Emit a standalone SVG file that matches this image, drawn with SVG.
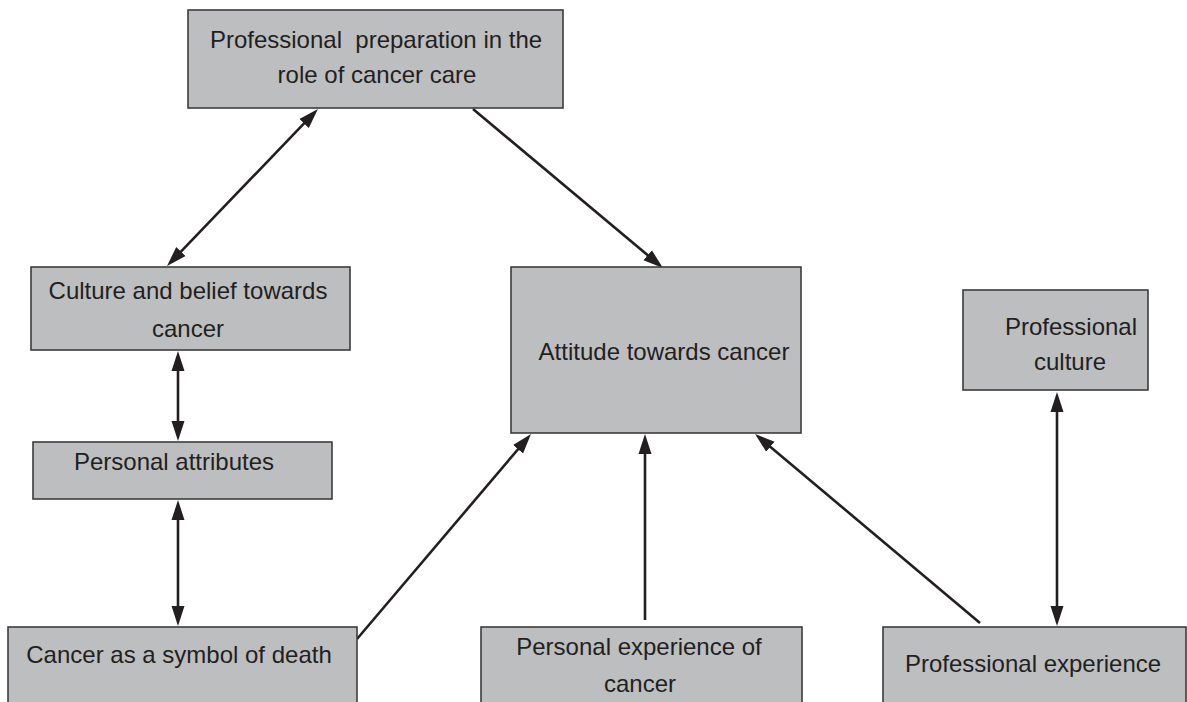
<svg xmlns="http://www.w3.org/2000/svg" width="1187" height="702" viewBox="0 0 1187 702">
<style>
.box{fill:#bcbec0;stroke:#3c3c3e;stroke-width:1.6}
.t{font-family:"Liberation Sans",Arial,sans-serif;font-size:24px;fill:#231f20;text-anchor:middle}
.c{stroke:#231f20;stroke-width:2.6;fill:none}
.a{marker-end:url(#ah)}
.d{marker-start:url(#ah);marker-end:url(#ah)}
</style>
<defs>
<marker id="ah" markerUnits="userSpaceOnUse" markerWidth="21" markerHeight="14" refX="1" refY="6.5" orient="auto-start-reverse" viewBox="0 0 21 13">
<path d="M0,0 L20,6.5 L0,13 z" fill="#231f20"/>
</marker>
</defs>
<rect width="1187" height="702" fill="#ffffff"/>
<g id="connectors">
<line class="c d" x1="304.8" y1="122.7" x2="180.2" y2="252.3"/>
<line class="c a" x1="473" y1="109" x2="648.4" y2="255.8"/>
<line class="c d" x1="178" y1="370" x2="178" y2="422"/>
<line class="c d" x1="178" y1="519" x2="178" y2="607"/>
<line class="c a" x1="357" y1="639" x2="518.7" y2="448.5"/>
<line class="c a" x1="645" y1="620" x2="645" y2="453"/>
<line class="c a" x1="980" y1="623" x2="769.6" y2="446.2"/>
<line class="c d" x1="1057" y1="411" x2="1057" y2="607"/>
</g>
<g id="prep">
<rect class="box" x="188" y="10" width="375" height="98"/>
<text class="t" x="376" y="48" xml:space="preserve">Professional  preparation in the</text>
<text class="t" x="377" y="83">role of cancer care</text>
</g>
<g id="culture">
<rect class="box" x="31" y="267" width="319" height="83"/>
<text class="t" x="188" y="299">Culture and belief towards</text>
<text class="t" x="188" y="337">cancer</text>
</g>
<g id="attributes">
<rect class="box" x="33" y="442" width="299" height="57"/>
<text class="t" x="174" y="470">Personal attributes</text>
</g>
<g id="attitude">
<rect class="box" x="511" y="267" width="290" height="166"/>
<text class="t" x="664" y="360">Attitude towards cancer</text>
</g>
<g id="profculture">
<rect class="box" x="963" y="290" width="185" height="100"/>
<text class="t" x="1071" y="335">Professional</text>
<text class="t" x="1070" y="370">culture</text>
</g>
<g id="symbol">
<rect class="box" x="8" y="627" width="349" height="90"/>
<text class="t" x="179" y="663">Cancer as a symbol of death</text>
</g>
<g id="personalexp">
<rect class="box" x="481" y="627" width="321" height="90"/>
<text class="t" x="639" y="655">Personal experience of</text>
<text class="t" x="640" y="692">cancer</text>
</g>
<g id="profexp">
<rect class="box" x="883" y="627" width="303" height="90"/>
<text class="t" x="1033" y="672">Professional experience</text>
</g>
</svg>
